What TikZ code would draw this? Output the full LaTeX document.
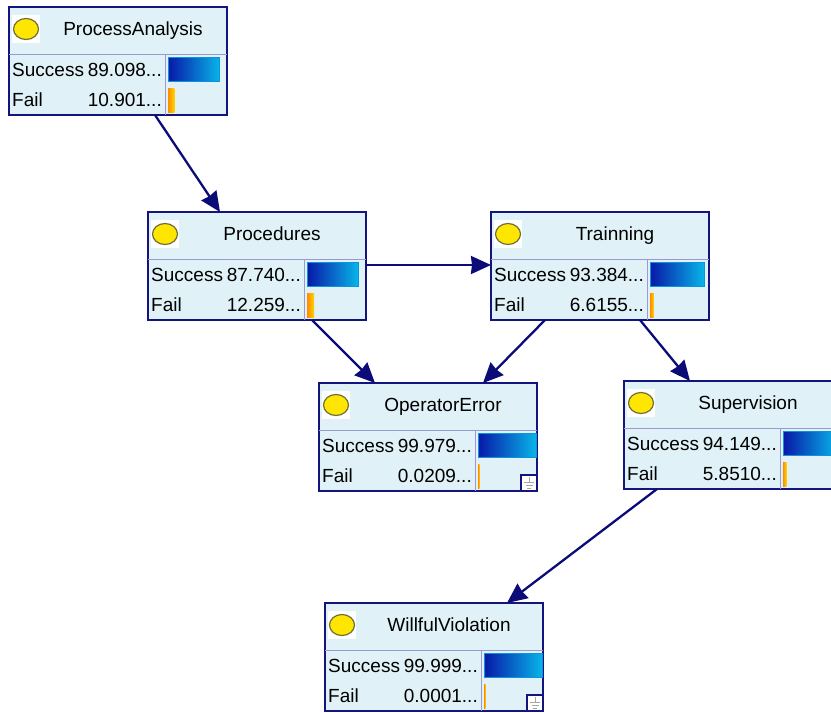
\documentclass[tikz,border=0pt]{standalone}
\usepackage{fontspec}
\setmainfont{Liberation Sans}
\usetikzlibrary{arrows.meta, calc, shapes.geometric}

\definecolor{bnfill}{HTML}{E0F2F7}
\definecolor{bnborder}{HTML}{14147E}
\definecolor{bnline}{HTML}{0C0C78}
\definecolor{bndiv}{HTML}{9A9AD0}
\definecolor{bnyellow}{HTML}{FFE600}
\definecolor{bnball}{HTML}{6E6E3A}
\definecolor{bardark}{HTML}{0818A8}
\definecolor{barcyan}{HTML}{08B4E8}
\definecolor{failorange}{HTML}{FF8C00}
\definecolor{failyellow}{HTML}{FFD400}

% one belief node: name, top-left corner, title, success, fail, success %, fail %
\newcommand{\bnnode}[7]{%
  \node[bnbox] (#1) at (#2) {};
  \draw[divline] ($(#1.north west)+(0,47)$) -- ($(#1.north east)+(0,47)$);
  \draw[divline] ($(#1.north west)+(156,47)$) -- ($(#1.south west)+(156,0)$);
  \fill[white] ($(#1.north west)+(3,8)$) rectangle ($(#1.north west)+(31,36)$);
  \draw[stateball] ($(#1.north west)+(17,22)$) ellipse [x radius=12.5, y radius=10.5];
  \node[titletext] at ($(#1.north west)+(124,28)$) {#3};
  \node[rowtext, anchor=base west] at ($(#1.north west)+(3,69)$) {Success};
  \node[rowtext, anchor=base east] at ($(#1.north west)+(153,69)$) {#4};
  \node[rowtext, anchor=base west] at ($(#1.north west)+(3,99)$) {Fail};
  \node[rowtext, anchor=base east] at ($(#1.north west)+(153,99)$) {#5};
  \shadedraw[succbar] ($(#1.north west)+(159,50)$) rectangle ++(0.58*#6,24);
  \shade[failbar] ($(#1.north west)+(159,81)$) rectangle ++({max(1.6,0.58*#7)},24);
}

% evidence mark in the lower right corner
\newcommand{\bnmark}[1]{%
  \draw[markbox] ($(#1.south east)+(-16,-16)$) rectangle (#1.south east);
  \draw[groundline] ($(#1.south east)+(-8,-14)$) -- ++(0,5.5)
    ($(#1.south east)+(-13,-8.5)$) -- ++(10,0)
    ($(#1.south east)+(-11.5,-5.5)$) -- ++(7,0)
    ($(#1.south east)+(-9.75,-3)$) -- ++(3.5,0);
}

\begin{document}
\begin{tikzpicture}[
  x=1pt, y=-1pt,
  bnbox/.style={draw=bnborder, fill=bnfill, line width=1.6pt, rectangle, anchor=north west,
    minimum width=218pt, minimum height=108pt, inner sep=0pt, outer sep=0pt},
  divline/.style={draw=bndiv, line width=0.8pt},
  stateball/.style={draw=bnball, fill=bnyellow, line width=1.2pt},
  titletext/.style={anchor=base, inner sep=0pt, font=\fontsize{19}{21}\selectfont},
  rowtext/.style={inner sep=0pt, font=\fontsize{19}{21}\selectfont},
  succbar/.style={left color=bardark, right color=barcyan, draw=barcyan!80!bardark, line width=0.6pt},
  failbar/.style={left color=failorange, right color=failyellow},
  markbox/.style={draw=bnborder, fill=white, line width=1.2pt},
  groundline/.style={draw=gray!70, line width=0.8pt},
  arrow/.style={-{Stealth[length=20pt, width=18pt, inset=1pt]}, draw=bnline, line width=2.3pt}
]
\clip (0,0) rectangle (831,713);

\bnnode{pa}{9,7}{ProcessAnalysis}{89.098...}{10.901...}{89.098}{10.901}
\bnnode{proc}{148,212}{Procedures}{87.740...}{12.259...}{87.740}{12.259}
\bnnode{train}{491,212}{Trainning}{93.384...}{6.6155...}{93.384}{6.6155}
\bnnode{oe}{319,383}{OperatorError}{99.979...}{0.0209...}{99.979}{0.0209}
\bnnode{sup}{624,381}{Supervision}{94.149...}{5.8510...}{94.149}{5.8510}
\bnnode{wv}{325,603}{WillfulViolation}{99.999...}{0.0001...}{99.999}{0.0001}

\bnmark{oe}
\bnmark{wv}

\draw[arrow] ($(pa.south west)+(146,0)$) -- ($(proc.north west)+(72,0)$);
\draw[arrow] ($(proc.north east)+(0,53)$) -- ($(train.north west)+(0,53)$);
\draw[arrow] ($(proc.south west)+(164,0)$) -- ($(oe.north west)+(56,0)$);
\draw[arrow] ($(train.south west)+(54,0)$) -- ($(oe.north west)+(164,0)$);
\draw[arrow] ($(train.south west)+(149,0)$) -- ($(sup.north west)+(66,0)$);
\draw[arrow] ($(sup.south west)+(33,0)$) -- ($(wv.north west)+(182,0)$);

\end{tikzpicture}
\end{document}
